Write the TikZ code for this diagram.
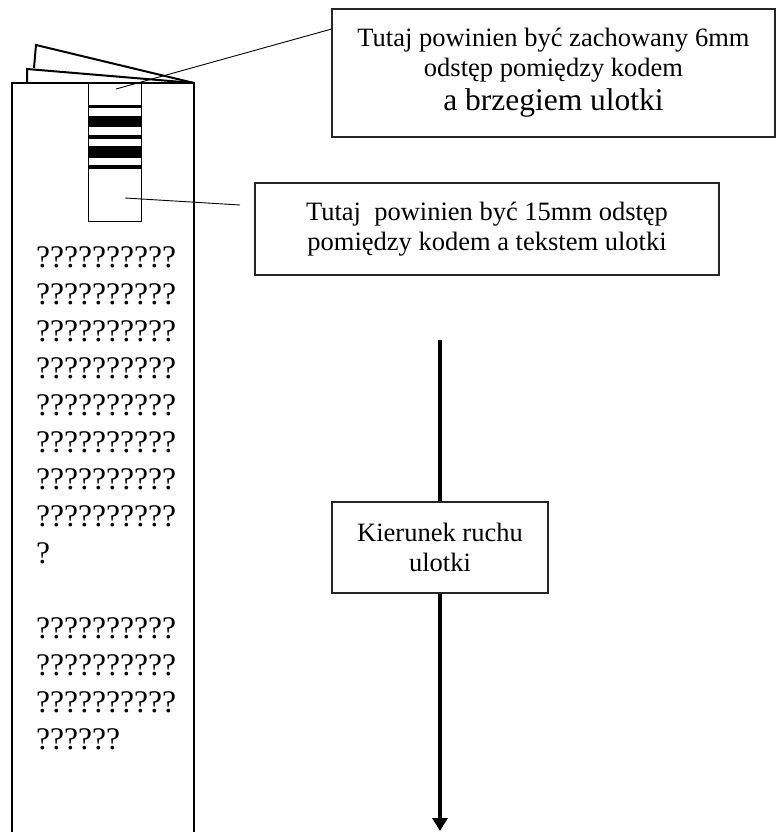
\documentclass[tikz,border=0pt]{standalone}
\usepackage{fontspec}
\setmainfont{Liberation Serif}
\usetikzlibrary{calc,arrows.meta}

\begin{document}
\begin{tikzpicture}[x=1pt, y=-1pt,
    note/.style={draw=black!85, line width=1.2pt, fill=white, align=center, inner sep=0pt, font=\fontsize{26.5}{30}\selectfont},
    fold/.style={line width=2pt},
    bar/.style={fill=black},
    leader/.style={line width=0.9pt},
    flow/.style={line width=3.5pt},
    body/.style={anchor=base west, inner sep=0pt, align=left, font=\fontsize{31.5}{37}\selectfont},
]
\useasboundingbox (0,0) rectangle (776,832);

% --- leaflet with folded pages ---
\draw[fold] (34,68) -- (36,45) -- (194,83);
\draw[fold] (27,83) -- (27,69) -- (194,83);
\draw[fold] (12,832) -- (12,83) -- (194,83) -- (194,832);

% --- code on the leaflet ---
\draw[line width=1pt] (88,83) rectangle (141,221);
\fill[bar] (88,105) rectangle (141,108);
\fill[bar] (88,116) rectangle (141,127);
\fill[bar] (88,135) rectangle (141,139);
\fill[bar] (88,146) rectangle (141,158);
\fill[bar] (88,165) rectangle (141,169);

% --- leaflet text (base = last line) ---
\node[body] (para1) at (36,563) {??????????\\??????????\\??????????\\??????????\\??????????\\??????????\\??????????\\??????????\\?};
\node[body] (para2) at (36,749) {??????????\\??????????\\??????????\\??????};

% --- notes ---
\node[note, minimum width=443pt, minimum height=128pt] (sixmm) at (553.5,73)
    {Tutaj powinien być zachowany 6mm\\ odstęp pomiędzy kodem\\[4pt] {\fontsize{31.5}{35}\selectfont a brzegiem ulotki}};
\node[note, minimum width=464pt, minimum height=92pt] (fifteenmm) at (487,229)
    {Tutaj\ \ powinien być 15mm odstęp\\ pomiędzy kodem a tekstem ulotki};
\node[note, minimum width=216pt, minimum height=91pt] (direction) at (440,547.5)
    {Kierunek ruchu\\ ulotki};

% --- leaders ---
\coordinate (edgegap) at (116,89);
\draw[leader] (edgegap) -- ($(sixmm.north west)!0.16!(sixmm.south west)$);
\coordinate (textgap) at (125,198);
\coordinate (textgapend) at (240,205);
\draw[leader] (textgap) -- (textgapend);

% --- direction of movement ---
\coordinate (flowstart) at (440,340);
\coordinate (flowend) at (440,831);
\draw[flow] (flowstart) -- (direction.north);
\draw[flow, -{Triangle[width=15pt,length=13pt]}] (direction.south) -- (flowend);
\end{tikzpicture}
\end{document}
